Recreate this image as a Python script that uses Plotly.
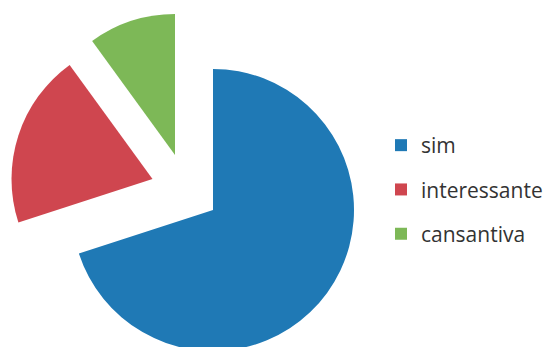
import plotly.graph_objects as go

# Category data
labels = ["sim", "interessante", "cansantiva"]
values = [70, 20, 10]

# Styling
colors = ["#1F79B5", "#CF464F", "#7DB857"]
W, H = 544, 360          # canvas is a little taller than the view; bottom of the pie runs off the edge
R = 141                  # pie radius in px
# exploded slice apex positions (px from top-left)
centers = [(213, 210), (152.5, 179), (175, 155)]

fig = go.Figure()

# one pie trace per slice so every slice can be exploded independently;
# the slices not owned by a trace are left transparent
for i, (cx, cy) in enumerate(centers):
    cols = ["rgba(0,0,0,0)"] * len(values)
    cols[i] = colors[i]
    fig.add_trace(go.Pie(
        labels=labels,
        values=values,
        sort=False,
        direction="clockwise",
        rotation=0,
        marker=dict(colors=cols, line=dict(width=0)),
        textinfo="none",
        hoverinfo="skip" if i else "label+percent",
        showlegend=False,
        domain=dict(
            x=[(cx - R) / W, (cx + R) / W],
            y=[1 - (cy + R) / H, 1 - (cy - R) / H],
        ),
    ))

# legend entries
for i, lab in enumerate(labels):
    fig.add_trace(go.Scatter(
        x=[None], y=[None],
        mode="markers",
        name=lab,
        legendgroup=lab,
        marker=dict(symbol="square", size=12, color=colors[i]),
    ))

fig.update_layout(
    width=W, height=H,
    margin=dict(l=0, r=0, t=0, b=0, autoexpand=False),
    paper_bgcolor="white",
    plot_bgcolor="white",
    xaxis=dict(visible=False),
    yaxis=dict(visible=False),
    font=dict(family="Open Sans", color="#333333"),
    legend=dict(
        x=381 / W, y=1 - 125 / H,
        xanchor="left", yanchor="top",
        traceorder="grouped",
        tracegroupgap=14,
        font=dict(size=21, color="#333333"),
        bgcolor="rgba(0,0,0,0)",
    ),
)

fig.write_html(
    "out.html",
    post_script="document.documentElement.style.overflow='hidden';document.body.style.overflow='hidden';",
)
